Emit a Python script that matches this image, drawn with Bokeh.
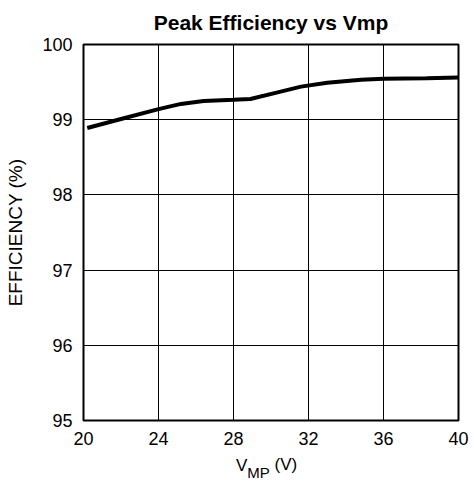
from bokeh.plotting import figure
from bokeh.models import FixedTicker, Div
from bokeh.layouts import column
from bokeh.embed import file_html
from bokeh.resources import INLINE

# Data
vmp = [20.2, 22.0, 24.0, 25.2, 26.4, 28.0, 28.9, 30.3, 31.6, 33.0, 34.8, 36.0, 38.3, 40.0]
efficiency = [98.89, 99.01, 99.14, 99.21, 99.25, 99.265, 99.275, 99.36, 99.44, 99.49, 99.53, 99.545, 99.55, 99.56]
x_ticks = [20, 24, 28, 32, 36, 40]
y_ticks = [95, 96, 97, 98, 99, 100]

FONT = "Liberation Sans"

p = figure(width=474, height=450, x_range=(20, 40), y_range=(95, 100),
           output_backend="svg", toolbar_location=None,
           min_border_left=83, min_border_right=16, min_border_top=44, min_border_bottom=30,
           title="Peak Efficiency vs Vmp")
p.frame_width = 375
p.frame_height = 376

p.title.align = "center"
p.title.vertical_align = "top"
p.title.text_font = FONT
p.title.text_font_size = "21px"
p.title.text_font_style = "bold"
p.title.text_color = "black"
p.title.standoff = 18

p.line(vmp, efficiency, line_width=4, line_color="black")

p.xaxis.ticker = FixedTicker(ticks=x_ticks)
p.yaxis.ticker = FixedTicker(ticks=y_ticks)
for ax in (p.xaxis, p.yaxis):
    ax.major_tick_line_color = None
    ax.minor_tick_line_color = None
    ax.axis_line_color = None
    ax.major_label_text_font = FONT
    ax.major_label_text_font_size = "18px"
    ax.major_label_text_color = "black"
p.xaxis.major_label_standoff = 5
p.yaxis.major_label_standoff = 5
p.xaxis.axis_label = None
p.yaxis.axis_label = "EFFICIENCY (%)"
p.yaxis.axis_label_text_font = FONT
p.yaxis.axis_label_text_font_size = "19px"
p.yaxis.axis_label_text_font_style = "normal"
p.yaxis.axis_label_text_color = "black"
p.yaxis.axis_label_standoff = 13

p.grid.grid_line_color = "black"
p.grid.grid_line_width = 1
p.grid.grid_line_alpha = 1
p.outline_line_color = "black"
p.outline_line_width = 2
p.outline_line_alpha = 1
p.background_fill_color = "white"
p.border_fill_color = "white"

# x-axis label with subscript
xlabel = Div(
    text=('<div style="font-family:\'Liberation Sans\'; font-size:17px; color:black; '
          'padding-left:231px; padding-top:1px; white-space:nowrap; line-height:20px;">'
          'V<span style="font-size:15px; position:relative; top:7px;">MP</span>'
          '<span style="position:relative; top:-1px;">&nbsp;(V)</span></div>'),
    width=474, height=37)

layout = column(p, xlabel, spacing=0)
open("out.html", "w").write(file_html(layout, INLINE))
